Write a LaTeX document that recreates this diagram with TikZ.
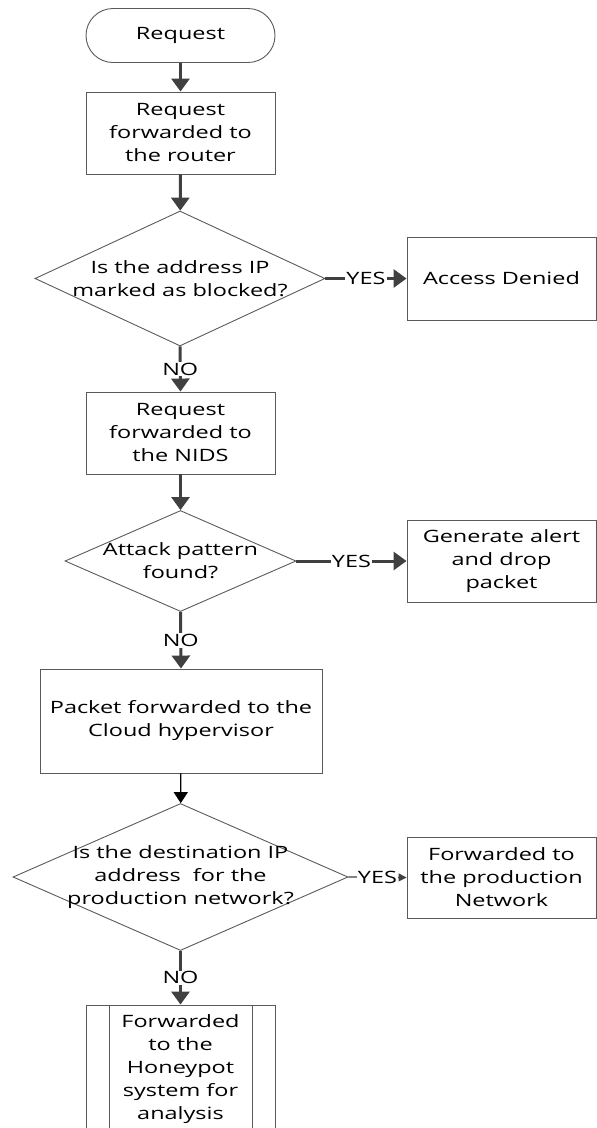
\documentclass[tikz,border=0pt]{standalone}
\usepackage{fontspec}
\setmainfont{Open Sans}[FakeStretch=1.38]
\usetikzlibrary{arrows.meta,shapes.geometric}

\definecolor{arrowgrey}{HTML}{404040}
\definecolor{edgegrey}{HTML}{5A5A5A}

\tikzset{
	terminal/.style={draw=edgegrey, line width=0.9pt, rounded corners=27pt, minimum width=189pt, minimum height=54pt},
	procbox/.style={draw=edgegrey, line width=0.9pt, align=center, inner sep=0pt, minimum width=189pt, minimum height=82pt},
	decision/.style={draw=edgegrey, line width=0.9pt, diamond, inner sep=0pt},
	flow/.style={line width=3pt, draw=arrowgrey, -{Triangle[width=18pt,length=13pt]}},
	thinflow/.style={line width=1.2pt, draw=black, -{Triangle[width=14pt,length=11pt]}},
	thinyes/.style={line width=1.2pt, draw=arrowgrey, -{Triangle[width=8pt,length=8pt]}},
	answer/.style={fill=white, inner sep=1pt},
}

\begin{document}
\begin{tikzpicture}[x=1pt, y=-1pt, every node/.style={font=\fontsize{17}{23}\selectfont}]
		\useasboundingbox (0,0) rectangle (597,1128);
		\node[terminal] (req) at (180.5,35.5) {Request};
		\node[procbox] (router) at (180.5,133) {Request\\forwarded to\\the router};
		\node[decision, minimum width=290pt, minimum height=135pt,
			label={[align=center]center:Is the address IP\\marked as blocked?}] (blocked) at (180,278.5) {};
		\node[procbox, minimum height=83pt] (denied) at (501.5,278.5) {Access Denied};
		\node[procbox] (nids) at (180.5,433) {Request\\forwarded to\\the NIDS};
		\node[decision, minimum width=231pt, minimum height=101pt,
			label={[align=center]center:Attack pattern\\found?}] (pattern) at (180.5,561) {};
		\node[procbox] (alert) at (501.5,561) {Generate alert\\and drop\\packet};
		\node[procbox, minimum width=282pt, minimum height=104pt] (packet) at (181,721) {Packet forwarded to the\\Cloud hypervisor};
		\node[decision, minimum width=335pt, minimum height=147pt,
			label={[align=center]center:Is the destination IP\\address~ for the\\production network?}] (dest) at (180.5,877) {};
		\node[procbox, minimum height=81pt] (prod) at (501.5,877.5) {Forwarded to\\the production\\Network};
		\node[procbox, minimum height=129pt] (honey) at (180.5,1069.5) {Forwarded\\to the\\Honeypot\\system for\\analysis};
		\draw[edgegrey, line width=0.9pt] ([xshift=24pt]honey.north west) -- ([xshift=24pt]honey.south west);
		\draw[edgegrey, line width=0.9pt] ([xshift=-23pt]honey.north east) -- ([xshift=-23pt]honey.south east);

		\draw[flow] (req) -- (router);
		\draw[flow] (router) -- (blocked);
		\draw[flow] (blocked.east) -- node[answer] {YES} (denied.west);
		\draw[flow] (blocked.south) -- node[answer] {NO} (nids.north);
		\draw[flow] (nids) -- (pattern);
		\draw[flow] (pattern.east) -- node[answer] {YES} (alert.west);
		\draw[flow] (pattern.south) -- node[answer] {NO} (packet.north);
		\draw[thinflow] (packet) -- (dest);
		\draw[thinyes] (dest.east) -- node[answer] {YES} (prod.west);
		\draw[flow] (dest.south) -- node[answer] {NO} (honey.north);

	\end{tikzpicture}
\end{document}
